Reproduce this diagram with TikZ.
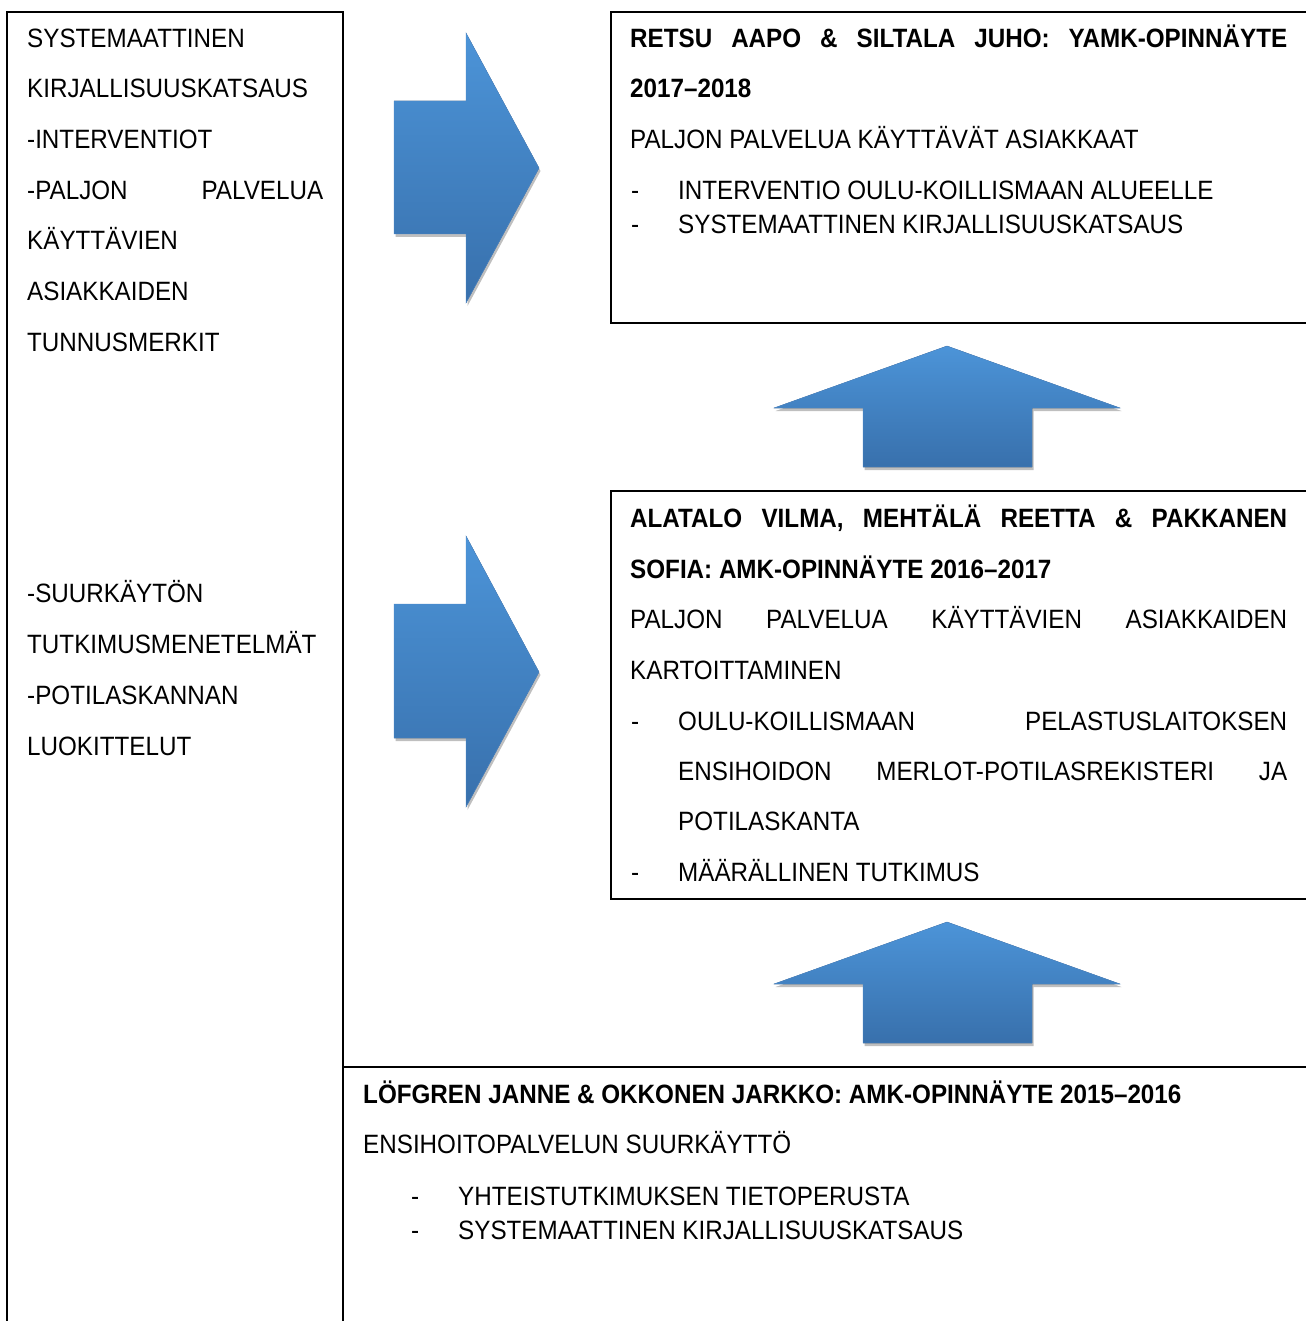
\documentclass[tikz,border=0pt]{standalone}
\usepackage{fontspec}
\setmainfont{Liberation Sans}[FakeStretch=0.914]
\usetikzlibrary{shadows}
\tikzset{
  frame/.style={draw=black, line width=1.6pt},
  txt/.style={anchor=base west, inner sep=0pt, font=\fontsize{26.5}{30}\selectfont},
  btxt/.style={txt, font=\fontsize{26.5}{30}\selectfont\bfseries},
  bluearrow/.style={top color={rgb,255:red,76;green,148;blue,216}, bottom color={rgb,255:red,56;green,112;blue,172},
     draw={rgb,255:red,80;green,140;blue,205}, line width=0.4pt,
     drop shadow={shadow xshift=1.5pt, shadow yshift=-3pt, opacity=0.25, fill=black}}
}
\newcommand{\jline}[2]{\makebox[#1pt][s]{#2}}
\begin{document}
\begin{tikzpicture}[x=1pt,y=-1pt]
\useasboundingbox (0,0) rectangle (1305,1321);
\fill[white] (0,0) rectangle (1305,1321);

% boxes
\draw[frame] (7,1330) -- (7,12) -- (343,12) -- (343,1330);
\draw[frame] (1310,12) -- (611,12) -- (611,323) -- (1310,323);
\draw[frame] (1310,491) -- (611,491) -- (611,899) -- (1310,899);
\draw[frame] (343,1330) -- (343,1067) -- (1310,1067);

% arrows
\fill[bluearrow] (394,101) -- (466,101) -- (466,33) -- (539,168) -- (466,303) -- (466,234) -- (394,234) -- cycle;
\fill[bluearrow] (394,604) -- (466,604) -- (466,536) -- (539,672) -- (466,807) -- (466,738) -- (394,738) -- cycle;
\fill[bluearrow] (863,467) -- (863,408) -- (774,408) -- (947,346) -- (1120,408) -- (1032,408) -- (1032,467) -- cycle;
\fill[bluearrow] (863,1043) -- (863,984) -- (774,984) -- (947,922) -- (1120,984) -- (1032,984) -- (1032,1043) -- cycle;

% left box text
\node[txt] (l1) at (27,47.5) {SYSTEMAATTINEN};
\node[txt] (l2) at (27,98) {KIRJALLISUUSKATSAUS};
\node[txt] (l3) at (27,148.5) {-INTERVENTIOT};
\node[txt] (l4) at (27,199.5) {\jline{296}{-PALJON PALVELUA}};
\node[txt] (l5) at (27,250) {KÄYTTÄVIEN};
\node[txt] (l6) at (27,300.5) {ASIAKKAIDEN};
\node[txt] (l7) at (27,351) {TUNNUSMERKIT};
\node[txt] (l8) at (27,602.5) {-SUURKÄYTÖN};
\node[txt] (l9) at (27,653.5) {TUTKIMUSMENETELMÄT};
\node[txt] (l10) at (27,704.5) {-POTILASKANNAN};
\node[txt] (l11) at (27,755) {LUOKITTELUT};

% top box
\node[btxt] (t1) at (630,47.5) {\jline{657}{RETSU AAPO \& SILTALA JUHO: YAMK-OPINNÄYTE}};
\node[btxt] (t2) at (630,98) {2017–2018};
\node[txt] (t3) at (630,148.5) {PALJON PALVELUA KÄYTTÄVÄT ASIAKKAAT};
\node[txt] (t4d) at (631,199.5) {-};
\node[txt] (t4) at (678,199.5) {INTERVENTIO OULU-KOILLISMAAN ALUEELLE};
\node[txt] (t5d) at (631,233.5) {-};
\node[txt] (t5) at (678,233.5) {SYSTEMAATTINEN KIRJALLISUUSKATSAUS};

% middle box
\node[btxt] (m1) at (630,527.5) {\jline{657}{ALATALO VILMA, MEHTÄLÄ REETTA \& PAKKANEN}};
\node[btxt] (m2) at (630,578.5) {SOFIA: AMK-OPINNÄYTE 2016–2017};
\node[txt] (m3) at (630,628.5) {\jline{657}{PALJON PALVELUA KÄYTTÄVIEN ASIAKKAIDEN}};
\node[txt] (m4) at (630,679.5) {KARTOITTAMINEN};
\node[txt] (m5d) at (631,730.5) {-};
\node[txt] (m5) at (678,730.5) {\jline{609}{OULU-KOILLISMAAN PELASTUSLAITOKSEN}};
\node[txt] (m6) at (678,780.5) {\jline{609}{ENSIHOIDON MERLOT-POTILASREKISTERI JA}};
\node[txt] (m7) at (678,830.5) {POTILASKANTA};
\node[txt] (m8d) at (631,881.5) {-};
\node[txt] (m8) at (678,881.5) {MÄÄRÄLLINEN TUTKIMUS};

% bottom box
\node[btxt] (b1) at (363,1103.5) {LÖFGREN JANNE \& OKKONEN JARKKO: AMK-OPINNÄYTE 2015–2016};
\node[txt] (b2) at (363,1153.5) {ENSIHOITOPALVELUN SUURKÄYTTÖ};
\node[txt] (b3d) at (411,1205.5) {-};
\node[txt] (b3) at (458,1205.5) {YHTEISTUTKIMUKSEN TIETOPERUSTA};
\node[txt] (b4d) at (411,1239.5) {-};
\node[txt] (b4) at (458,1239.5) {SYSTEMAATTINEN KIRJALLISUUSKATSAUS};
\end{tikzpicture}
\end{document}
